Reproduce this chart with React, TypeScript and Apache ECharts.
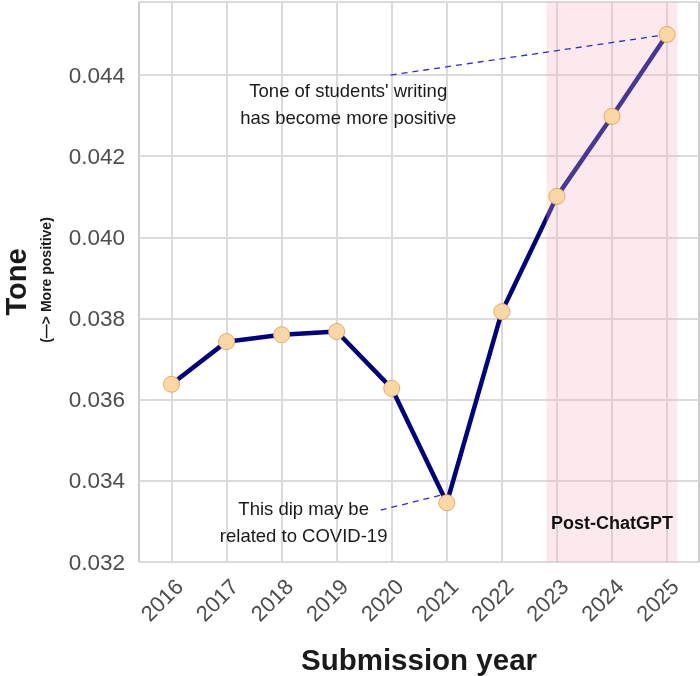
import React, { useEffect, useRef } from "react";
import * as echarts from "echarts";

const years = [2016, 2017, 2018, 2019, 2020, 2021, 2022, 2023, 2024, 2025];
const tone = [0.03638, 0.03743, 0.03760, 0.03768, 0.03628, 0.03346, 0.03817, 0.04101, 0.04298, 0.04500];
const yTicks = [0.032, 0.034, 0.036, 0.038, 0.04, 0.042, 0.044];
const postChatGPTRange = [2022.81, 2025.19];
const noteUp = { text: "Tone of students' writing\nhas become more positive", at: [2019.21, 0.04329], from: [2019.98, 0.04400], to: [2025, 0.045] };
const noteDip = { text: "This dip may be\nrelated to COVID-19", at: [2018.4, 0.032985], from: [2019.8, 0.03328], to: [2020.9, 0.03365] };
const regionLabel = { text: "Post-ChatGPT", at: [2024.0, 0.03296] };

const FONT = "'Liberation Sans', Arial, Helvetica, sans-serif";

export default function App() {
  const ref = useRef<HTMLDivElement>(null);
  useEffect(() => {
    if (!ref.current) return;
    const chart = echarts.init(ref.current, undefined, { renderer: "svg" });
    const points = years.map((y, i) => [y, tone[i]]);
    chart.setOption({
      animation: false,
      textStyle: { fontFamily: FONT },
      grid: {
        left: 139,
        top: 2,
        right: 1,
        bottom: 114,
        containLabel: false,
        outerBoundsMode: "none",
        show: true,
        borderColor: "#9a9a9a",
        borderWidth: 1,
        backgroundColor: "transparent",
      },
      xAxis: {
        type: "value",
        min: 2015.41,
        max: 2025.58,
        axisLine: { show: false },
        axisTick: { show: false, customValues: years },
        axisLabel: {
          customValues: years,
          rotate: 45,
          margin: 13,
          fontSize: 22,
          verticalAlign: "top",
          color: "#4d4d4d",
          fontFamily: FONT,
          formatter: (v: number) => String(v),
        },
        splitLine: { show: true, lineStyle: { color: "#dadada", width: 2 } },
        name: "Submission year",
        nameLocation: "middle",
        nameGap: 82,
        nameTextStyle: { fontSize: 29.5, fontWeight: "bold", color: "#1a1a1a", fontFamily: FONT },
      },
      yAxis: {
        type: "value",
        min: 0.032,
        max: 0.0458,
        interval: 0.002,
        axisLine: { show: false },
        axisTick: { show: false },
        axisLabel: {
          margin: 14,
          fontSize: 22.5,
          color: "#4d4d4d",
          fontFamily: FONT,
          showMaxLabel: false,
          formatter: (v: number) => (yTicks.some((t) => Math.abs(t - v) < 1e-9) ? v.toFixed(3) : ""),
        },
        splitLine: { show: true, lineStyle: { color: "#dadada", width: 2 } },
      },
      graphic: [
        {
          type: "text",
          x: 16,
          y: 282,
          rotation: Math.PI / 2,
          style: {
            text: "Tone",
            fontSize: 29,
            fontWeight: "bold",
            fill: "#1a1a1a",
            fontFamily: FONT,
            align: "center",
            verticalAlign: "middle",
          },
        },
        {
          type: "text",
          x: 46,
          y: 280,
          rotation: Math.PI / 2,
          style: {
            text: "(—> More positive)",
            fontSize: 14,
            fontWeight: "bold",
            fill: "#1a1a1a",
            fontFamily: FONT,
            align: "center",
            verticalAlign: "middle",
          },
        },
      ],
      series: [
        {
          type: "line",
          data: points,
          z: 2,
          showSymbol: false,
          lineStyle: { color: "#000080", width: 4.5 },
          markLine: {
            silent: true,
            symbol: ["none", "none"],
            label: { show: false },
            lineStyle: { color: "#2b2bd0", type: [6, 5], width: 1.3 },
            data: [
              [{ coord: noteUp.from }, { coord: noteUp.to }],
              [{ coord: noteDip.from }, { coord: noteDip.to }],
            ],
          },
          markPoint: {
            silent: true,
            symbol: "circle",
            symbolSize: 0,
            label: {
              show: true,
              position: "inside",
              fontSize: 18.5,
              lineHeight: 27.5,
              color: "#1a1a1a",
              fontFamily: FONT,
              align: "center",
              verticalAlign: "middle",
            },
            data: [
              { coord: noteUp.at, label: { formatter: noteUp.text } },
              { coord: noteDip.at, label: { formatter: noteDip.text } },
              {
                coord: regionLabel.at,
                label: { formatter: regionLabel.text, fontSize: 18, fontWeight: "bold", color: "#111" },
              },
            ],
          },
        },
        {
          type: "line",
          data: [],
          z: 3,
          markArea: {
            silent: true,
            z: 3,
            itemStyle: { color: "rgba(242,182,198,0.3)" },
            data: [[{ xAxis: postChatGPTRange[0], yAxis: "min" }, { xAxis: postChatGPTRange[1], yAxis: "max" }]],
          },
        },
        {
          type: "scatter",
          data: points,
          z: 5,
          symbol: "circle",
          symbolSize: 16,
          itemStyle: { color: "#fad8a6", borderColor: "#e3a860", borderWidth: 1, opacity: 1 },
        },
      ],
    });
    return () => chart.dispose();
  }, []);
  return <div ref={ref} style={{ position: "fixed", left: 0, top: 0, width: 700, height: 676 }} />;
}
